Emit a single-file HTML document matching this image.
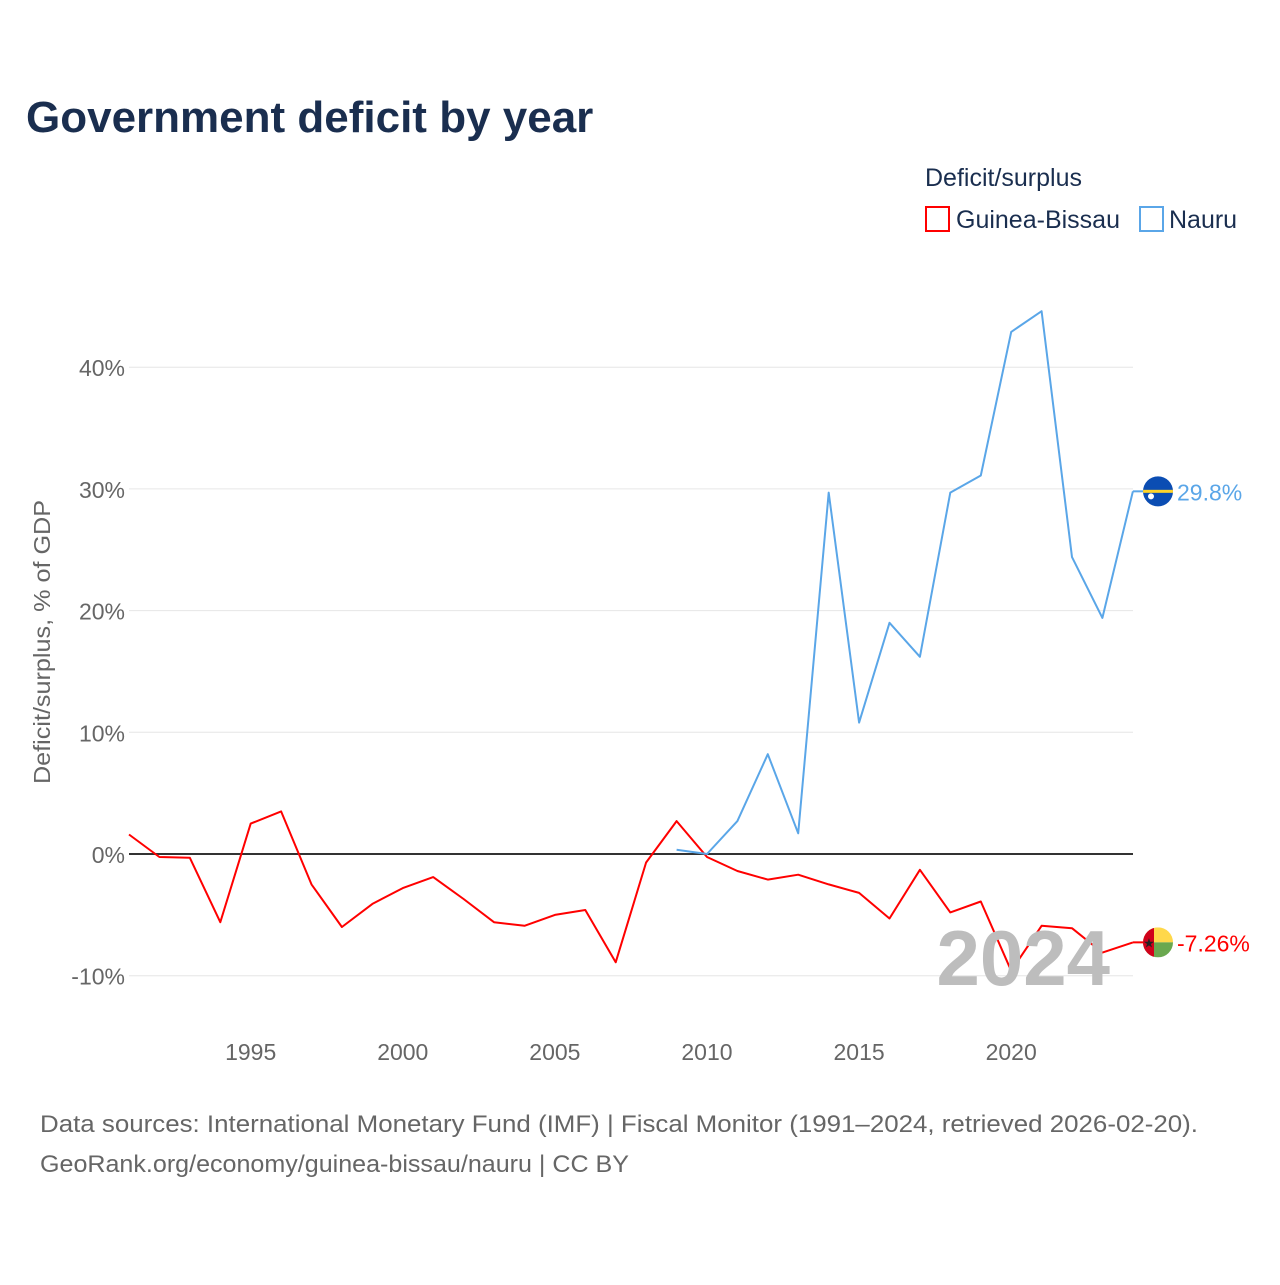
<!DOCTYPE html>
<html><head><meta charset="utf-8">
<style>
body{margin:0;background:#fff;font-family:"Liberation Sans",sans-serif;}
svg text{font-family:"Liberation Sans",sans-serif;}
</style></head>
<body>
<svg id="chart" width="1280" height="1280" xmlns="http://www.w3.org/2000/svg">
<text x="26" y="132" font-size="44" font-weight="bold" fill="#1a2e4f">Government deficit by year</text>
<text x="925" y="186" font-size="25" fill="#1a2e4f">Deficit/surplus</text>
<g>
<rect x="926" y="207" width="23" height="24" fill="none" stroke="#ff0000" stroke-width="2"/>
<text x="956" y="228" font-size="25" fill="#1a2e4f">Guinea-Bissau</text></g>
<g>
<rect x="1140" y="207" width="23" height="24" fill="none" stroke="#5aa6e8" stroke-width="2"/>
<text x="1169" y="228" font-size="25" fill="#1a2e4f">Nauru</text></g>
<text transform="translate(50,642) rotate(-90)" text-anchor="middle" font-size="23" fill="#666" textLength="284" lengthAdjust="spacingAndGlyphs">Deficit/surplus, % of GDP</text>
<g id="grid"></g><g id="ticks"></g><g id="series"></g>
<text x="1110" y="985" text-anchor="end" font-size="78" font-weight="bold" fill="#bdbdbd">2024</text>
<g id="ends"></g>
<text x="40" y="1132" font-size="24" fill="#666" textLength="1158" lengthAdjust="spacingAndGlyphs">Data sources: International Monetary Fund (IMF) | Fiscal Monitor (1991–2024, retrieved 2026-02-20).</text>
<text x="40" y="1172" font-size="24" fill="#666" textLength="589" lengthAdjust="spacingAndGlyphs">GeoRank.org/economy/guinea-bissau/nauru | CC BY</text>
</svg>
<script>
const yTicks=[-10,0,10,20,30,40];
const xTicks=[1995,2000,2005,2010,2015,2020];
const gbYears=[1991,1992,1993,1994,1995,1996,1997,1998,1999,2000,2001,2002,2003,2004,2005,2006,2007,2008,2009,2010,2011,2012,2013,2014,2015,2016,2017,2018,2019,2020,2021,2022,2023,2024];
const gbValues=[1.6,-0.25,-0.3,-5.6,2.5,3.5,-2.5,-6.0,-4.1,-2.8,-1.9,-3.7,-5.6,-5.9,-5.0,-4.6,-8.9,-0.7,2.7,-0.25,-1.4,-2.1,-1.7,-2.5,-3.2,-5.3,-1.3,-4.8,-3.9,-9.6,-5.9,-6.1,-8.1,-7.26];
const nrYears=[2009,2010,2011,2012,2013,2014,2015,2016,2017,2018,2019,2020,2021,2022,2023,2024];
const nrValues=[0.35,0,2.7,8.2,1.7,29.7,10.8,19.0,16.2,29.7,31.1,42.9,44.6,24.4,19.4,29.8];
const NS="http://www.w3.org/2000/svg";
const X=y=>129+(y-1991)*30.42;
const Y=v=>854-v*12.17;
function mk(tag,attrs,parent,txt){const e=document.createElementNS(NS,tag);for(const k in attrs)e.setAttribute(k,attrs[k]);if(txt!==undefined)e.textContent=txt;parent.appendChild(e);return e;}
const grid=document.getElementById('grid'),ticks=document.getElementById('ticks'),series=document.getElementById('series'),ends=document.getElementById('ends');
yTicks.forEach(v=>{
 const l=mk('line',{x1:129,x2:1133,y1:Y(v),y2:Y(v),stroke:v===0?'#333':'#e6e6e6','stroke-width':v===0?2:1},grid);
 
 
 const t=mk('text',{x:125,y:Y(v)+9,'text-anchor':'end','font-size':23,fill:'#666'},ticks,v+'%');
 
 
});
xTicks.forEach(y=>{
 const t=mk('text',{x:X(y),y:1060,'text-anchor':'middle','font-size':23,fill:'#666'},ticks,String(y));
 
 
});
function line(years,vals,color,name){
 const d=years.map((y,i)=>(i?'L':'M')+X(y).toFixed(1)+','+Y(vals[i]).toFixed(1)).join(' ');
 const p=mk('path',{d:d,fill:'none',stroke:color,'stroke-width':2,'stroke-linejoin':'round'},series);
 
 
 const ly=Y(vals[vals.length-1]);
 mk('line',{x1:X(years[years.length-1]),x2:1143,y1:ly,y2:ly,stroke:color,'stroke-width':2},series);
 return ly;
}
const gy=line(gbYears,gbValues,'#ff0000','series-guinea-bissau');
const ny=line(nrYears,nrValues,'#5aa6e8','series-nauru');
const nf=mk('g',{},ends);


mk('clipPath',{id:'cn'},nf);mk('circle',{cx:1158,cy:ny,r:15},nf.lastChild);
mk('circle',{cx:1158,cy:ny,r:15,fill:'#0b4db3'},nf);
mk('rect',{x:1143,y:ny-1.5,width:30,height:3,fill:'#ffd42a','clip-path':'url(#cn)'},nf);
mk('circle',{cx:1151,cy:ny+5,r:3,fill:'#fff'},nf);
const nt=mk('text',{x:1177,y:ny+9,'font-size':23,fill:'#5aa6e8'},ends,'29.8%');


const gf=mk('g',{},ends);


mk('clipPath',{id:'cg'},gf);mk('circle',{cx:1158,cy:gy,r:15},gf.lastChild);
mk('rect',{x:1143,y:gy-15,width:30,height:15,fill:'#ffd84a','clip-path':'url(#cg)'},gf);
mk('rect',{x:1143,y:gy,width:30,height:15,fill:'#6aa84f','clip-path':'url(#cg)'},gf);
mk('rect',{x:1143,y:gy-15,width:11,height:30,fill:'#d0021b','clip-path':'url(#cg)'},gf);
mk('text',{x:1149,y:gy+5,'font-size':13,fill:'#222','text-anchor':'middle'},gf,'★');
const gt=mk('text',{x:1177,y:gy+9,'font-size':23,fill:'#ff0000'},ends,'-7.26%');


</script>
</body></html>
